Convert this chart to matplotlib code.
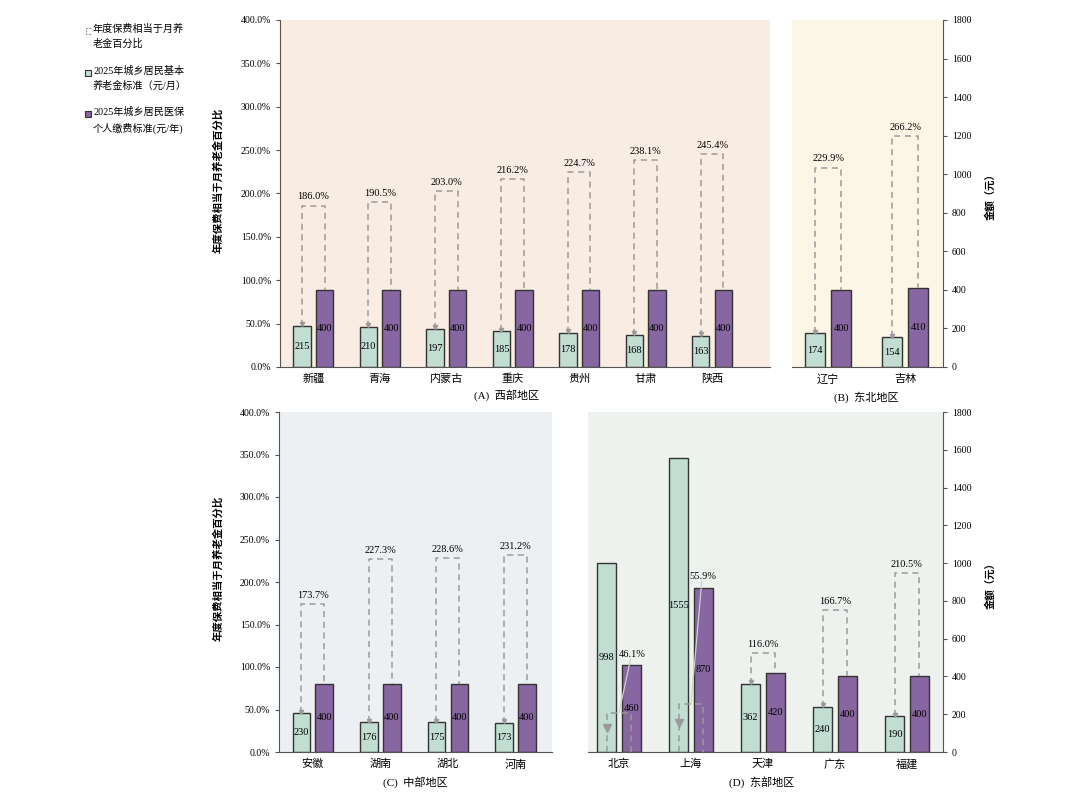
import numpy as np
import matplotlib
matplotlib.use('Agg')
import matplotlib.pyplot as plt
from matplotlib.lines import Line2D
from matplotlib.patches import Rectangle

plt.rcParams['font.family'] = ['Liberation Serif', 'Noto Sans CJK SC']

# (A) 西部地区
west_names = ['新疆', '青海', '内蒙古', '重庆', '贵州', '甘肃', '陕西']
west_pension = [215, 210, 197, 185, 178, 168, 163]
west_fee = [400, 400, 400, 400, 400, 400, 400]
west_pct = [186.0, 190.5, 203.0, 216.2, 224.7, 238.1, 245.4]

# (B) 东北地区
ne_names = ['辽宁', '吉林']
ne_pension = [174, 154]
ne_fee = [400, 410]
ne_pct = [229.9, 266.2]

# (C) 中部地区
mid_names = ['安徽', '湖南', '湖北', '河南']
mid_pension = [230, 176, 175, 173]
mid_fee = [400, 400, 400, 400]
mid_pct = [173.7, 227.3, 228.6, 231.2]

# (D) 东部地区
east_names = ['北京', '上海', '天津', '广东', '福建']
east_pension = [998, 1555, 362, 240, 190]
east_fee = [460, 870, 420, 400, 400]
east_pct = [46.1, 55.9, 116.0, 166.7, 210.5]

GREEN = '#c2ded3'
PURPLE = '#8866a1'
EDGE = '#333333'
DASH = '#9a9a9a'

W = 0.26
OFF = 0.17


def draw_panel(ax, names, base, fee, pct, bg, side, xlim, amax=1800, callouts=None):
    # bars in 元, brackets on the 0-400% scale mapped onto the same axis
    scale = amax / 400
    x = np.arange(len(names))
    ax.set_facecolor(bg)
    ax.bar(x - OFF, base, W, color=GREEN, edgecolor=EDGE, lw=1, zorder=2)
    ax.bar(x + OFF, fee, W, color=PURPLE, edgecolor=EDGE, lw=1, zorder=2)
    for i in x:
        ax.text(i - OFF, base[i] / 2, str(base[i]), ha='center', va='center',
                fontsize=7.5, zorder=5)
        ax.text(i + OFF, fee[i] / 2, str(fee[i]), ha='center', va='center',
                fontsize=7.5, zorder=5)
        lvl = pct[i] * scale
        xg, xp = i - OFF, i + OFF
        if lvl > max(base[i], fee[i]):
            ax.plot([xg, xg, xp, xp], [base[i], lvl, lvl, fee[i]], ls=(0, (4, 3)),
                    color=DASH, lw=1.1, zorder=3)
            ax.plot(xg, base[i] + 8, marker='v', ms=3, color=DASH, zorder=3)
            ax.annotate(f'{pct[i]:.1f}%', (i, lvl), xytext=(0, 3),
                        textcoords='offset points', ha='center', va='bottom',
                        fontsize=7.5)
        else:
            ax.plot([xg, xg, xp, xp], [0, lvl, lvl, 0], ls=(0, (4, 3)),
                    color=DASH, lw=1.1, zorder=3)
            ax.plot(xg, lvl * 0.62, marker='v', ms=6, color=DASH, zorder=3)
            lx, ly = callouts[i]
            ax.plot([i, lx - 0.02], [lvl, ly], color='#d0d0d0', lw=0.9, zorder=4)
            ax.text(lx, ly, f'{pct[i]:.1f}%', ha='center', va='bottom',
                    fontsize=7.5, zorder=5)
    ax.set_xlim(*xlim)
    ax.set_ylim(0, amax)
    ax.set_xticks(x, names, fontsize=8)
    ax.tick_params(axis='x', length=0, pad=5)
    ax.spines['top'].set_visible(False)
    ax.spines['bottom'].set_color('#555555')
    if side == 'left':
        ax.set_yticks(np.linspace(0, amax, 9),
                      [f'{v:.1f}%' for v in np.arange(0, 401, 50)])
        ax.spines['right'].set_visible(False)
        ax.spines['left'].set_color('#555555')
    else:
        ax.yaxis.tick_right()
        ax.set_yticks(np.arange(0, amax + 1, 200))
        ax.spines['left'].set_visible(False)
        ax.spines['right'].set_color('#555555')
    ax.tick_params(axis='y', labelsize=7, length=3, color='#555555')


fig = plt.figure(figsize=(10.8, 8.1), dpi=100)
FW, FH = 1080, 810


def box(l, t, r, b):
    return [l / FW, 1 - b / FH, (r - l) / FW, (b - t) / FH]


ax_a = fig.add_axes(box(280, 20, 770, 367))
ax_b = fig.add_axes(box(792, 20, 943, 367))
ax_c = fig.add_axes(box(279, 412, 552, 752))
ax_d = fig.add_axes(box(588, 412, 943, 752))

draw_panel(ax_a, west_names, west_pension, west_fee, west_pct, '#f9ece3', 'left', (-0.5, 6.87))
draw_panel(ax_b, ne_names, ne_pension, ne_fee, ne_pct, '#fbf6e6', 'right', (-0.47, 1.49))
draw_panel(ax_c, mid_names, mid_pension, mid_fee, mid_pct, '#edf0f3', 'left', (-0.5, 3.54),
           amax=2000)
draw_panel(ax_d, east_names, east_pension, east_fee, east_pct, '#eef2ee', 'right', (-0.43, 4.5),
           callouts={0: (0.18, 490), 1: (1.17, 905)})

# panel titles
fig.text(507 / FW, 1 - 395 / FH, '(A)  西部地区', ha='center', va='center', fontsize=8)
fig.text(866 / FW, 1 - 397 / FH, '(B)  东北地区', ha='center', va='center', fontsize=8)
fig.text(415 / FW, 1 - 782 / FH, '(C)  中部地区', ha='center', va='center', fontsize=8)
fig.text(762 / FW, 1 - 782 / FH, '(D)  东部地区', ha='center', va='center', fontsize=8)

# axis titles
ylab = '年度保费相当于月养老金百分比'
fig.text(218 / FW, 1 - 180 / FH, ylab, rotation=90, ha='center', va='center',
         fontsize=7.5, fontweight='bold', family=['Noto Sans CJK SC'])
fig.text(218 / FW, 1 - 568 / FH, ylab, rotation=90, ha='center', va='center',
         fontsize=7.5, fontweight='bold', family=['Noto Sans CJK SC'])
fig.text(990 / FW, 1 - 194 / FH, '金额（元）', rotation=90, ha='center', va='center',
         fontsize=7.5, fontweight='bold', family=['Noto Sans CJK SC'])
fig.text(990 / FW, 1 - 583 / FH, '金额（元）', rotation=90, ha='center', va='center',
         fontsize=7.5, fontweight='bold', family=['Noto Sans CJK SC'])

# legend
def fx(px):
    return px / FW


def fy(py):
    return 1 - py / FH


fig.add_artist(Line2D([fx(91), fx(86), fx(86), fx(91)], [fy(28), fy(28), fy(34), fy(34)],
                      color=DASH, lw=0.8, ls=(0, (2, 1))))
fig.text(fx(93), fy(24), '年度保费相当于月养\n老金百分比', ha='left', va='top',
         fontsize=7.3, linespacing=1.6)
fig.add_artist(Rectangle((fx(85), fy(76)), fx(6), 6 / FH, facecolor=GREEN,
                         edgecolor=EDGE, lw=0.8, transform=fig.transFigure))
fig.text(fx(93), fy(66), '2025年城乡居民基本\n养老金标准（元/月）', ha='left', va='top',
         fontsize=7.3, linespacing=1.6)
fig.add_artist(Rectangle((fx(85), fy(117)), fx(6), 6 / FH, facecolor=PURPLE,
                         edgecolor=EDGE, lw=0.8, transform=fig.transFigure))
fig.text(fx(93), fy(107), '2025年城乡居民医保\n个人缴费标准(元/年)', ha='left', va='top',
         fontsize=7.3, linespacing=1.6)

fig.savefig('out.png', dpi=100)
